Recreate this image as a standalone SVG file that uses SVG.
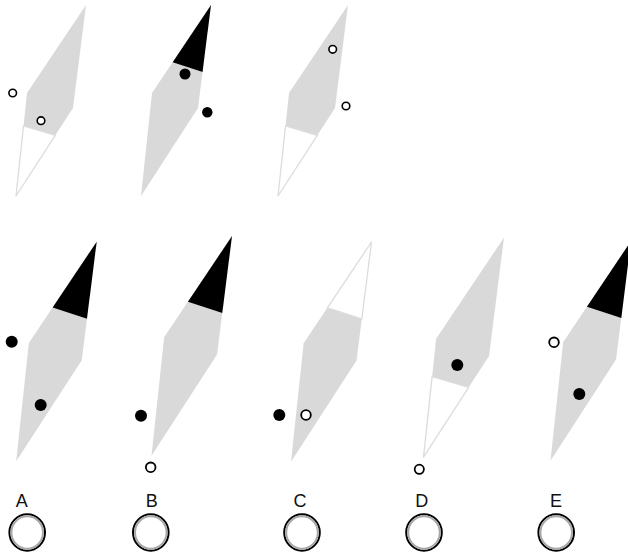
<svg xmlns="http://www.w3.org/2000/svg" xmlns:xlink="http://www.w3.org/1999/xlink" width="628" height="555" viewBox="0 0 628 555">
<style>
.g{fill:#d9d9d9}
.k{fill:#000}
.w{fill:#fff;stroke:#dcdcdc;stroke-width:1.3;vector-effect:non-scaling-stroke;stroke-linejoin:round}
.o{fill:#fff;stroke:#000;stroke-width:1.6}
.ob{fill:#fff;stroke:#000;stroke-width:1.8}
.f{fill:#000}
.lbl{font-family:"Liberation Sans",Arial,sans-serif;font-size:18px;fill:#111;text-anchor:middle}
.ans{fill:none;stroke:#000;stroke-width:2}
.ansi{fill:none;stroke:#a8a8a8;stroke-width:2}
</style>
<defs>
<g id="blackTop">
<polygon class="g" points="-38.35,57.2 -8.45,66.95 -13,103 -70,191 -59,88"/>
<polygon class="k" points="0,0 -8.45,66.95 -38.35,57.2"/>
</g>
<g id="whiteBottom">
<polygon class="g" points="0,0 -13,103 -30.7,130.3 -62.5,121 -59,88"/>
<polygon class="w" points="-62.5,121 -30.7,130.3 -70,191"/>
</g>
<g id="whiteTop">
<polygon class="g" points="-38.35,57.2 -8.45,66.95 -13,103 -70,191 -59,88"/>
<polygon class="w" points="0,0 -8.45,66.95 -38.35,57.2"/>
</g>
</defs>

<g id="panel1">
<use xlink:href="#whiteBottom" transform="translate(86,5)"/>
<circle class="o" cx="12.7" cy="93" r="3.8"/>
<circle class="o" cx="41" cy="120.7" r="3.8"/>
</g>
<g id="panel2">
<use xlink:href="#blackTop" transform="translate(211,5)"/>
<circle class="f" cx="185" cy="74" r="5.5"/>
<circle class="f" cx="207.3" cy="112.3" r="5.2"/>
</g>
<g id="panel3">
<use xlink:href="#whiteBottom" transform="translate(348,5)"/>
<circle class="o" cx="332.7" cy="49.3" r="3.8"/>
<circle class="o" cx="346" cy="106" r="3.8"/>
</g>

<g id="optionA">
<use xlink:href="#blackTop" transform="translate(96.7,241.7) scale(1.15)"/>
<circle class="f" cx="11.7" cy="341.7" r="6"/>
<circle class="f" cx="40.7" cy="405" r="6"/>
</g>
<g id="optionB">
<use xlink:href="#blackTop" transform="translate(232,236) scale(1.15)"/>
<circle class="f" cx="141" cy="415.7" r="6"/>
<circle class="ob" cx="150.7" cy="467.3" r="4.8"/>
</g>
<g id="optionC">
<use xlink:href="#whiteTop" transform="translate(371.5,242) scale(1.15)"/>
<circle class="f" cx="279.3" cy="415" r="6"/>
<circle class="ob" cx="306" cy="415" r="4.8"/>
</g>
<g id="optionD">
<use xlink:href="#whiteBottom" transform="translate(504,237.5) scale(1.15)"/>
<circle class="f" cx="457.3" cy="365" r="6"/>
<circle class="ob" cx="419.3" cy="469.3" r="4.6"/>
</g>
<g id="optionE">
<use xlink:href="#blackTop" transform="translate(631,241) scale(1.15)"/>
<circle class="ob" cx="554" cy="342.3" r="4.8"/>
<circle class="f" cx="579.3" cy="394" r="6"/>
</g>

<g id="answerA">
<text class="lbl" x="21.7" y="507">A</text>
<ellipse class="ans" cx="27.2" cy="532.5" rx="17.8" ry="18.2"/>
<ellipse class="ansi" cx="27.2" cy="532.5" rx="15.8" ry="16.2"/>
</g>
<g id="answerB">
<text class="lbl" x="151.7" y="507">B</text>
<ellipse class="ans" cx="150.8" cy="532.5" rx="17.8" ry="18.2"/>
<ellipse class="ansi" cx="150.8" cy="532.5" rx="15.8" ry="16.2"/>
</g>
<g id="answerC">
<text class="lbl" x="300" y="507">C</text>
<ellipse class="ans" cx="302" cy="532.5" rx="17.8" ry="18.2"/>
<ellipse class="ansi" cx="302" cy="532.5" rx="15.8" ry="16.2"/>
</g>
<g id="answerD">
<text class="lbl" x="421.7" y="507">D</text>
<ellipse class="ans" cx="424" cy="532.5" rx="17.8" ry="18.2"/>
<ellipse class="ansi" cx="424" cy="532.5" rx="15.8" ry="16.2"/>
</g>
<g id="answerE">
<text class="lbl" x="556" y="507">E</text>
<ellipse class="ans" cx="556.2" cy="532.5" rx="17.8" ry="18.2"/>
<ellipse class="ansi" cx="556.2" cy="532.5" rx="15.8" ry="16.2"/>
</g>
</svg>
